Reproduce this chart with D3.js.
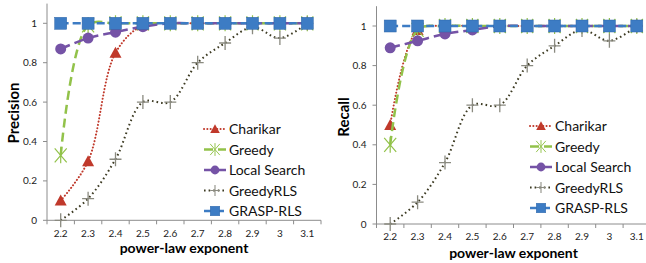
<!DOCTYPE html>
<html>
<head>
<meta charset="utf-8">
<script src="https://cdn.jsdelivr.net/npm/d3@7"></script>
<style>
  body { margin: 0; background: #fff; }
  svg { display: block; font-family: Lato, "Open Sans", sans-serif; }
</style>
</head>
<body>
<div id="chart-area"></div>
<script>
const exponents = ["2.2", "2.3", "2.4", "2.5", "2.6", "2.7", "2.8", "2.9", "3", "3.1"];
const yTicks = [0, 0.2, 0.4, 0.6, 0.8, 1];
const seriesNames = ["Charikar", "Greedy", "Local Search", "GreedyRLS", "GRASP-RLS"];

const precCharikar = [0.1, 0.3, 0.85, 0.99, 1, 1, 1, 1, 1, 1];
const precGreedy = [0.33, 0.99, 1, 1, 1, 1, 1, 1, 1, 1];
const precLocal = [0.87, 0.925, 0.955, 0.983, 1, 1, 1, 1, 1, 1];
const precGreedyRLS = [0, 0.11, 0.31, 0.6, 0.6, 0.8, 0.9, 0.98, 0.925, 1];
const precGrasp = [1, 1, 1, 1, 1, 1, 1, 1, 1, 1];

const recCharikar = [0.5, 0.98, 1, 1, 1, 1, 1, 1, 1, 1];
const recGreedy = [0.4, 0.98, 1, 1, 1, 1, 1, 1, 1, 1];
const recLocal = [0.89, 0.925, 0.96, 0.98, 1, 1, 1, 1, 1, 1];
const recGreedyRLS = [0, 0.11, 0.31, 0.6, 0.6, 0.8, 0.9, 0.98, 0.925, 1];
const recGrasp = [1, 1, 1, 1, 1, 1, 1, 1, 1, 1];

const styles = {
  "Charikar": { color: "#c0392b", dash: "0.1 3.2", cap: "round", width: 2, marker: "triangle" },
  "Greedy": { color: "#92c24a", dash: "9 5", cap: "butt", width: 2.5, marker: "star" },
  "Local Search": { color: "#7553a6", dash: "10 5", cap: "butt", width: 2.5, marker: "circle" },
  "GreedyRLS": { color: "#3c3a22", dash: "1.6 3", cap: "butt", width: 2, marker: "plus" },
  "GRASP-RLS": { color: "#3d7cc4", dash: "8 4", cap: "butt", width: 2.5, marker: "square" }
};

const svg = d3.select("#chart-area")
  .append("svg")
    .attr("width", 646)
    .attr("height", 263);

function drawMarker(sel, type, color) {
  if (type === "triangle") {
    sel.append("path").attr("d", "M0,-6L6,5L-6,5Z").attr("fill", color);
  } else if (type === "circle") {
    sel.append("circle").attr("r", 5.5).attr("fill", color);
  } else if (type === "square") {
    sel.append("rect").attr("x", -6).attr("y", -6).attr("width", 12).attr("height", 12)
      .attr("fill", color).attr("stroke", "#2f66a8").attr("stroke-width", 0.5);
  } else if (type === "star") {
    sel.append("path").attr("d", "M-6,-7L6,7M-6,7L6,-7M0,-8L0,8")
      .attr("stroke", color).attr("stroke-width", 1.2).attr("fill", "none");
  } else if (type === "plus") {
    sel.append("path").attr("d", "M-6,0L6,0M0,-7L0,7")
      .attr("stroke", "#8a8a80").attr("stroke-width", 1.3).attr("fill", "none");
  }
}

function drawChart(opts) {
  const g = svg.append("g");

  const x = d3.scaleBand()
    .domain(exponents)
    .range([opts.left, opts.left + 274]);

  const y = d3.scaleLinear()
    .domain([0, 1.1])
    .range([opts.bottom, opts.bottom - 1.1 * opts.unit]);

  const xAxisGroup = g.append("g")
    .attr("transform", `translate(0, ${opts.bottom})`);
  xAxisGroup.append("line")
    .attr("x1", x.range()[0]).attr("x2", x.range()[1])
    .attr("stroke", "#8c8c8c");
  xAxisGroup.selectAll(".tick-mark")
    .data(exponents.concat(["end"]))
    .enter().append("line")
      .attr("x1", (d, i) => x.range()[0] + i * x.bandwidth())
      .attr("x2", (d, i) => x.range()[0] + i * x.bandwidth())
      .attr("y1", 0).attr("y2", 4)
      .attr("stroke", "#8c8c8c");
  xAxisGroup.selectAll(".tick-label")
    .data(exponents)
    .enter().append("text")
      .attr("x", d => x(d) + x.bandwidth() / 2)
      .attr("y", opts.labelDy)
      .attr("text-anchor", "middle")
      .attr("font-size", "10px")
      .attr("fill", "#222")
      .text(d => d);

  const yAxisGroup = g.append("g")
    .attr("transform", `translate(${opts.left}, 0)`);
  yAxisGroup.append("line")
    .attr("y1", y(0)).attr("y2", y(1.1))
    .attr("stroke", "#8c8c8c");
  yAxisGroup.selectAll(".tick-mark")
    .data(yTicks)
    .enter().append("line")
      .attr("x1", -4).attr("x2", 0)
      .attr("y1", d => y(d)).attr("y2", d => y(d))
      .attr("stroke", "#8c8c8c");
  yAxisGroup.selectAll(".tick-label")
    .data(yTicks)
    .enter().append("text")
      .attr("x", -10)
      .attr("y", d => y(d) + 3.5)
      .attr("text-anchor", "end")
      .attr("font-size", "10px")
      .attr("fill", "#222")
      .text(d => d3.format("~g")(d));

  g.append("text")
    .attr("x", opts.left + 137)
    .attr("y", opts.titleY)
    .attr("text-anchor", "middle")
    .attr("font-size", "14px")
    .attr("font-weight", "bold")
    .text("power-law exponent");

  g.append("text")
    .attr("transform", `translate(${opts.left - 28}, ${opts.yLabelY}) rotate(-90)`)
    .attr("text-anchor", "middle")
    .attr("font-size", "15px")
    .attr("font-weight", "bold")
    .text(opts.yLabel);

  const line = d3.line()
    .x((d, i) => x(exponents[i]) + x.bandwidth() / 2)
    .y(d => y(d))
    .curve(d3.curveCatmullRom);

  seriesNames.forEach((name, k) => {
    const s = styles[name];
    const values = opts.series[k];
    g.append("path")
      .datum(values)
      .attr("d", line)
      .attr("fill", "none")
      .attr("stroke", s.color)
      .attr("stroke-width", s.width)
      .attr("stroke-dasharray", s.dash)
      .attr("stroke-linecap", s.cap);
    values.forEach((v, i) => {
      const m = g.append("g")
        .attr("transform", `translate(${x(exponents[i]) + x.bandwidth() / 2}, ${y(v)})`);
      drawMarker(m, s.marker, s.color);
    });
  });

  // legend
  const legend = g.append("g");
  seriesNames.forEach((name, k) => {
    const s = styles[name];
    const ly = opts.legendY + k * 20.5;
    legend.append("line")
      .attr("x1", opts.legendX).attr("x2", opts.legendX + 22)
      .attr("y1", ly).attr("y2", ly)
      .attr("stroke", s.color)
      .attr("stroke-width", s.width)
      .attr("stroke-dasharray", s.dash)
      .attr("stroke-linecap", s.cap);
    const m = legend.append("g")
      .attr("transform", `translate(${opts.legendX + 11}, ${ly}) scale(0.8)`);
    drawMarker(m, s.marker, s.color);
    legend.append("text")
      .attr("x", opts.legendX + 25)
      .attr("y", ly + 5)
      .attr("font-size", "14px")
      .attr("fill", "#111")
      .text(name);
  });
}

drawChart({
  left: 47, bottom: 220.3, unit: 197,
  labelDy: 16.5, titleY: 253, yLabel: "Precision", yLabelY: 113,
  legendX: 204, legendY: 129,
  series: [precCharikar, precGreedy, precLocal, precGreedyRLS, precGrasp]
});

drawChart({
  left: 376.5, bottom: 224, unit: 198,
  labelDy: 16, titleY: 257.5, yLabel: "Recall", yLabelY: 117,
  legendX: 530, legendY: 126,
  series: [recCharikar, recGreedy, recLocal, recGreedyRLS, recGrasp]
});
</script>
</body>
</html>
